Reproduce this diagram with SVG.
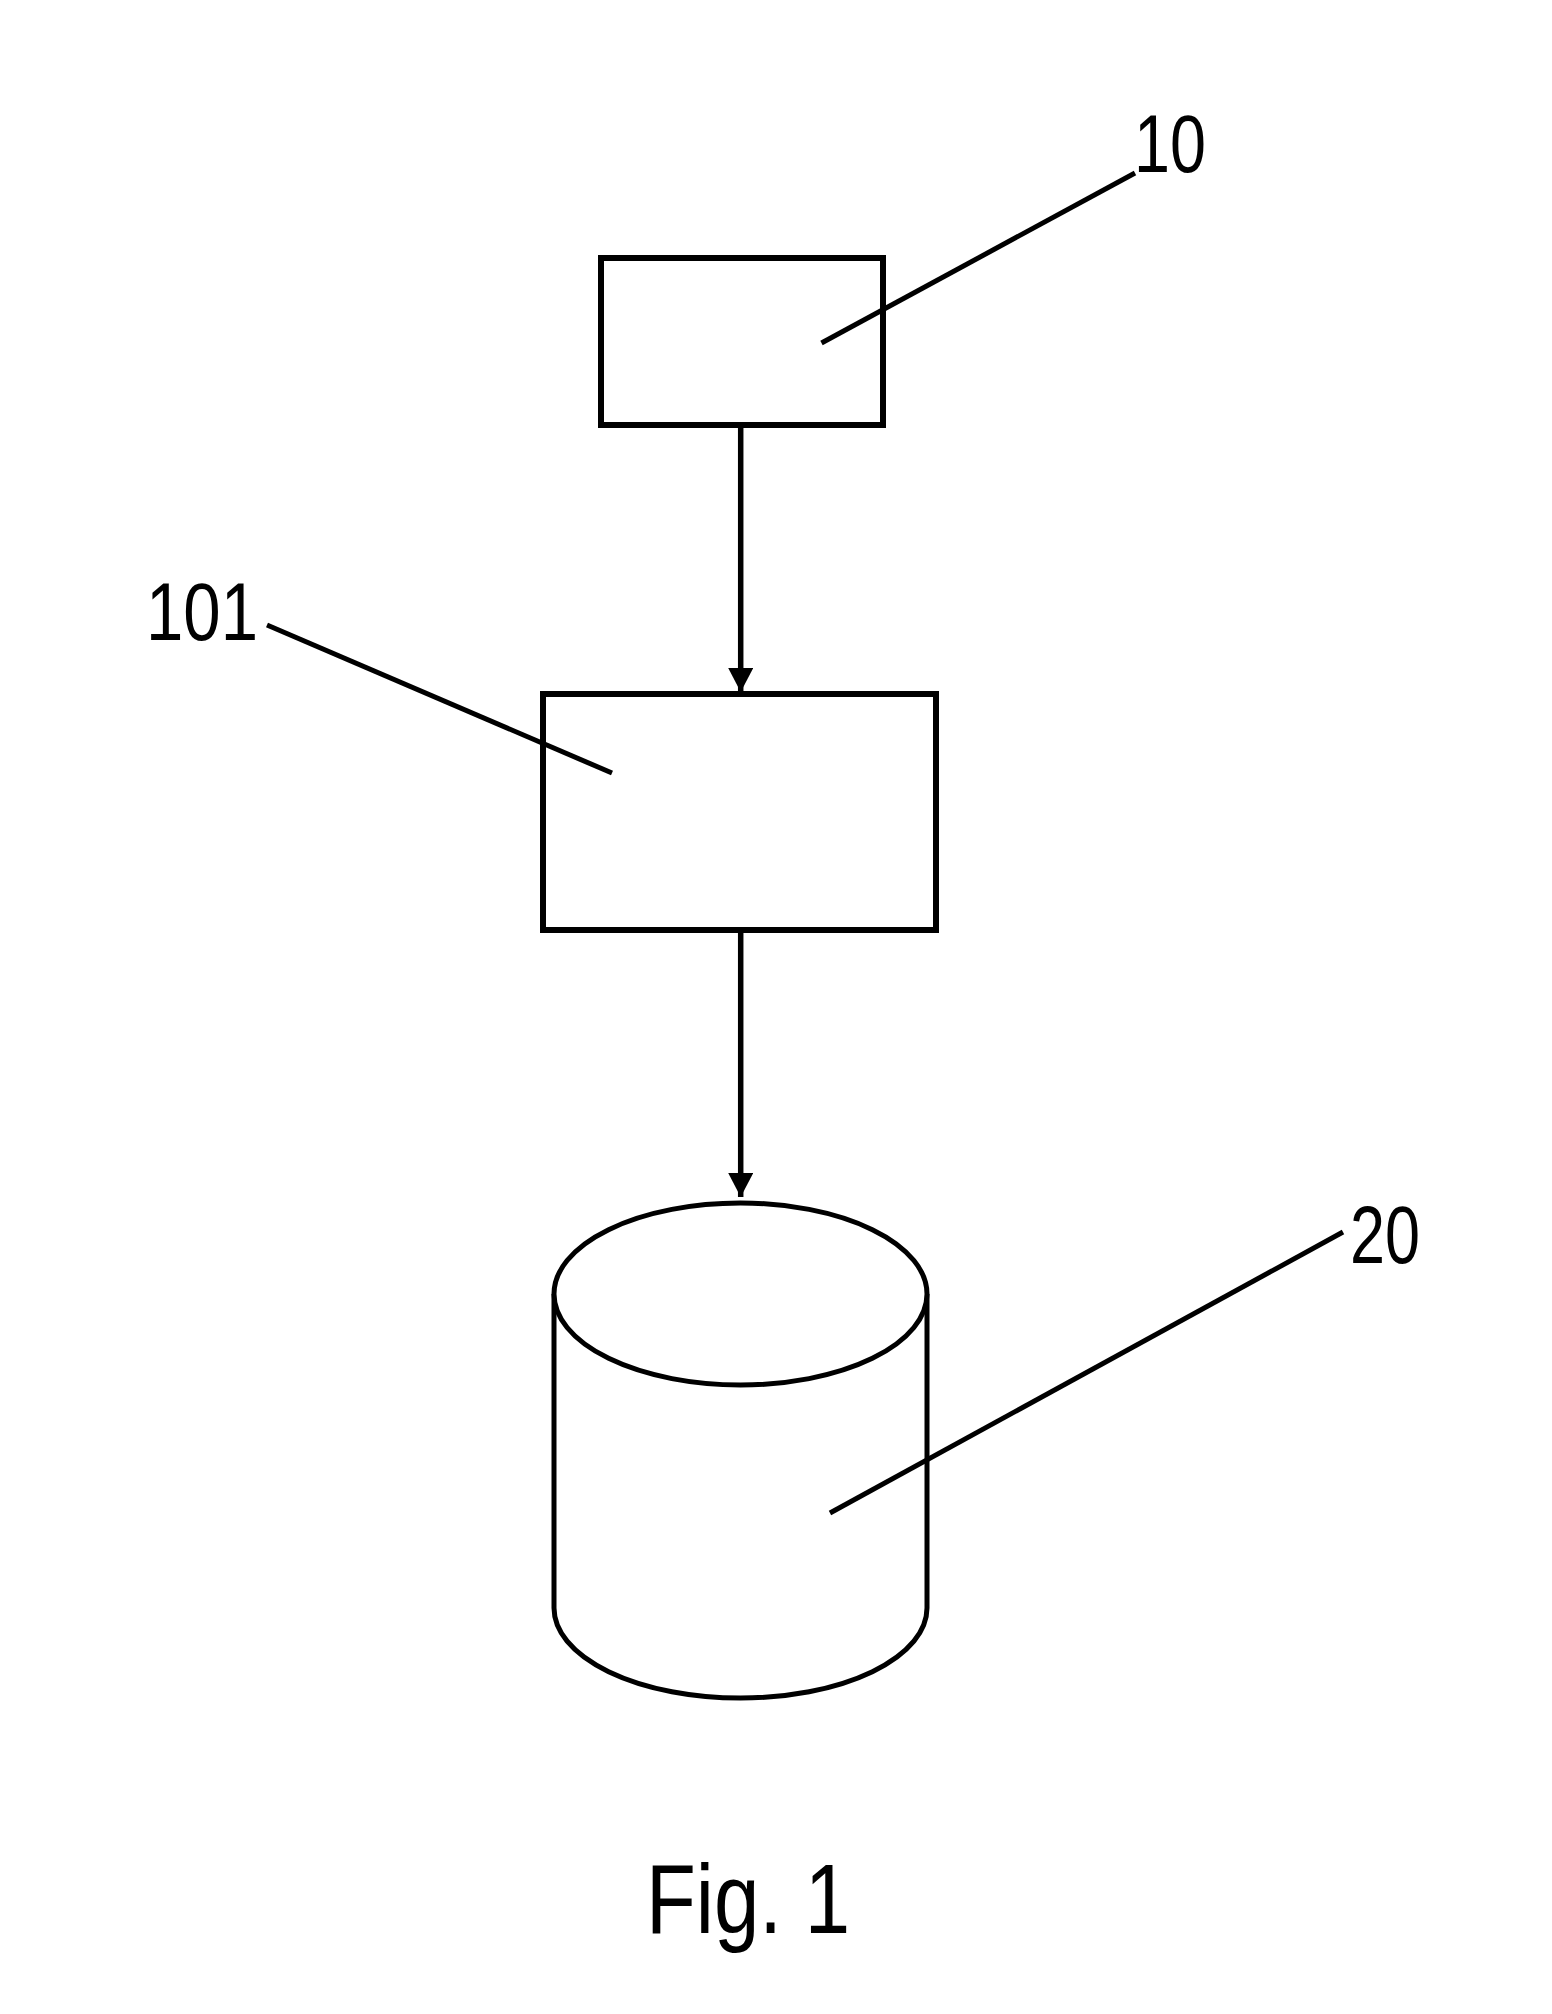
<svg xmlns="http://www.w3.org/2000/svg" width="1552" height="2014" viewBox="0 0 1552 2014">
  <style>
    .shape { fill: #ffffff; stroke: #000000; stroke-width: 6; }
    .cyl { fill: #ffffff; stroke: #000000; stroke-width: 5; }
    .leader { stroke: #000000; stroke-width: 5; fill: none; }
    .conn { stroke: #000000; stroke-width: 5.5; fill: none; }
    .ref { font-family: "Liberation Sans", Arial, sans-serif; font-size: 82px; fill: #000000; }
    .fig { font-family: "Liberation Sans", Arial, sans-serif; font-size: 99px; fill: #000000; }
  </style>
  <defs>
    <marker id="arrow" markerUnits="userSpaceOnUse" markerWidth="26" markerHeight="27" refX="24" refY="12.5" orient="auto" viewBox="0 0 26 27">
      <path d="M0,0 L24,12.5 L0,25 Z" fill="#000000"/>
    </marker>
  </defs>
  <rect width="1552" height="2014" fill="#ffffff"/>

  <g id="connectors">
    <line class="conn" x1="740.7" y1="428" x2="740.7" y2="692" marker-end="url(#arrow)"/>
    <line class="conn" x1="740.7" y1="933" x2="740.7" y2="1197" marker-end="url(#arrow)"/>
  </g>

  <g id="node-10">
    <rect class="shape" x="601" y="258" width="282" height="167"/>
    <line class="leader" x1="821.5" y1="343" x2="1135" y2="173"/>
    <text class="ref" x="1134" y="172" textLength="72" lengthAdjust="spacingAndGlyphs">10</text>
  </g>

  <g id="node-101">
    <rect class="shape" x="543" y="694" width="393" height="236"/>
    <line class="leader" x1="267" y1="625" x2="612" y2="773"/>
    <text class="ref" x="146" y="640" textLength="112" lengthAdjust="spacingAndGlyphs">101</text>
  </g>

  <g id="node-20">
    <path class="cyl" d="M554,1294 L554,1608 A186.5,90 0 0 0 927,1608 L927,1294"/>
    <ellipse class="cyl" cx="740.5" cy="1294" rx="186.5" ry="91"/>
    <line class="leader" x1="830" y1="1513" x2="1343" y2="1232"/>
    <text class="ref" x="1350" y="1263" textLength="70" lengthAdjust="spacingAndGlyphs">20</text>
  </g>

  <g id="caption">
    <text class="fig" x="646" y="1933" textLength="204" lengthAdjust="spacingAndGlyphs">Fig. 1</text>
  </g>
</svg>
